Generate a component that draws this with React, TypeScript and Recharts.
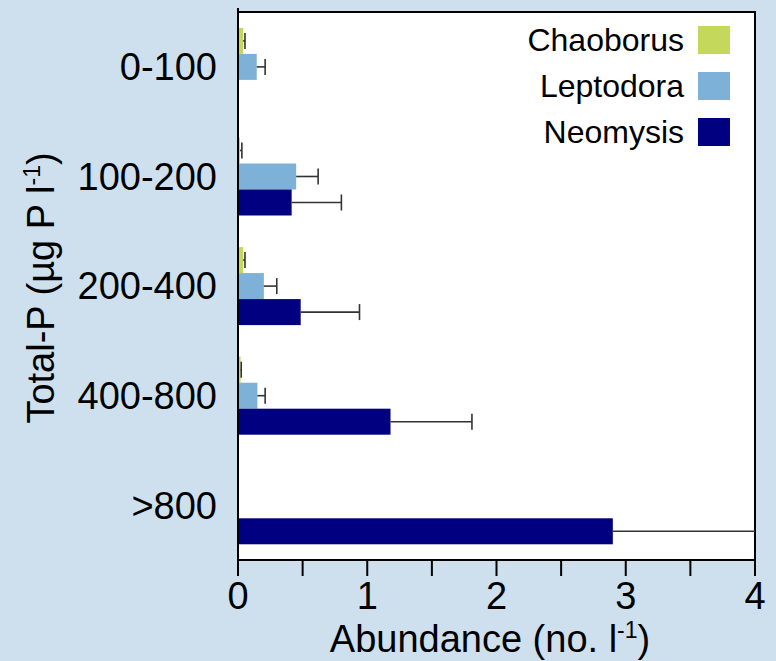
import React from 'react'
import {
  BarChart, Bar, XAxis, YAxis, ReferenceArea,
} from 'recharts'

const categories = ['0-100', '100-200', '200-400', '400-800', '>800']
const chaoborus = [0.04, 0.015, 0.04, 0.02, 0]
const chaoborusErr = [0.014, 0.015, 0.014, 0.005, 0]
const leptodora = [0.145, 0.45, 0.2, 0.15, 0]
const leptodoraErr = [0.065, 0.17, 0.1, 0.06, 0]
const neomysis = [0, 0.415, 0.485, 1.18, 2.9]
const neomysisErr = [0, 0.385, 0.455, 0.63, 1.6]
const xTicks = [0, 0.5, 1, 1.5, 2, 2.5, 3, 3.5, 4]

const series = [
  { key: 'chaoborus', err: 'chaoborusErr', name: 'Chaoborus', color: '#c4d95b' },
  { key: 'leptodora', err: 'leptodoraErr', name: 'Leptodora', color: '#7eb1d7' },
  { key: 'neomysis', err: 'neomysisErr', name: 'Neomysis', color: '#000080' },
]

const data = categories.map((c, i) => ({
  cat: c,
  chaoborus: chaoborus[i],
  chaoborusErr: chaoborusErr[i],
  leptodora: leptodora[i],
  leptodoraErr: leptodoraErr[i],
  neomysis: neomysis[i],
  neomysisErr: neomysisErr[i],
}))

const FONT = '"Liberation Sans", Arial, Helvetica, sans-serif'

// bar plus a one-sided error whisker, length taken from the bar's own px/unit
const barWithError = (errKey: string) => (props: any) => {
  const { x, y, width, height, fill, payload, value } = props
  const v = Array.isArray(value) ? value[1] - value[0] : value
  if (!v || width <= 0) return <g />
  const pxPerUnit = width / v
  const err = payload[errKey] || 0
  const x1 = x + width
  const x2 = x1 + err * pxPerUnit
  const cy = y + height / 2
  return (
    <g>
      <rect x={x} y={y} width={width} height={height} fill={fill} />
      {err > 0 && (
        <g stroke="#333" strokeWidth={1.6}>
          <line x1={x1} y1={cy} x2={x2} y2={cy} />
          <line x1={x2} y1={cy - 8} x2={x2} y2={cy + 8} />
        </g>
      )}
    </g>
  )
}

const LegendBox = () => (
  <div
    style={{
      position: 'absolute', left: 470, top: 17, width: 260,
      fontFamily: FONT, fontSize: 32, color: '#000',
    }}
  >
    {series.map((s) => (
      <div
        key={s.key}
        style={{ display: 'flex', alignItems: 'center', justifyContent: 'flex-end', height: 46 }}
      >
        <span style={{ marginRight: 14 }}>{s.name}</span>
        <span style={{ display: 'inline-block', width: 32, height: 28, background: s.color }} />
      </div>
    ))}
  </div>
)

const XTitle = () => (
  <text x={490} y={652} textAnchor="middle" fontFamily={FONT} fontSize={38} fill="#000">
    <tspan>Abundance (no. l</tspan>
    <tspan dy={-14} fontSize={23}>-1</tspan>
    <tspan dy={14}>)</tspan>
  </text>
)

const YTitle = () => (
  <text
    x={0}
    y={0}
    transform="translate(54, 288) rotate(-90)"
    textAnchor="middle"
    fontFamily={FONT}
    fontSize={38}
    fill="#000"
  >
    <tspan>Total-P (µg P l</tspan>
    <tspan dy={-14} fontSize={23}>-1</tspan>
    <tspan dy={14}>)</tspan>
  </text>
)

export default function App() {
  return (
    <div style={{ position: 'absolute', left: 0, top: 0, width: 776, height: 661, background: '#cee0ee' }}>
      <BarChart
        width={776}
        height={661}
        data={data}
        layout="vertical"
        margin={{ top: 8, right: 21, left: 0, bottom: 0 }}
        barCategoryGap="14.5%"
        barGap={0}
      >
        <ReferenceArea x1={0} x2={4} fill="#fff" fillOpacity={1} stroke="#000" strokeWidth={2} />
        <XAxis
          type="number"
          domain={[0, 4]}
          ticks={xTicks}
          interval={0}
          allowDataOverflow
          height={101}
          tickSize={16}
          tickMargin={6}
          axisLine={{ stroke: '#000', strokeWidth: 2 }}
          tickLine={{ stroke: '#000', strokeWidth: 2 }}
          tickFormatter={(v) => (v % 1 === 0 ? String(v) : '')}
          tick={{ fontSize: 38, fill: '#000', fontFamily: FONT }}
        />
        <YAxis
          type="category"
          dataKey="cat"
          width={238}
          padding={{ top: 4 }}
          tickSize={0}
          tickMargin={21}
          axisLine={{ stroke: '#000', strokeWidth: 2 }}
          tickLine={false}
          tick={{ fontSize: 38, fill: '#000', fontFamily: FONT }}
        />
        {series.map((s) => (
          <Bar
            key={s.key}
            dataKey={s.key}
            name={s.name}
            fill={s.color}
            shape={barWithError(s.err)}
            isAnimationActive={false}
          />
        ))}
        <XTitle />
        <YTitle />
      </BarChart>
      <LegendBox />
    </div>
  )
}
